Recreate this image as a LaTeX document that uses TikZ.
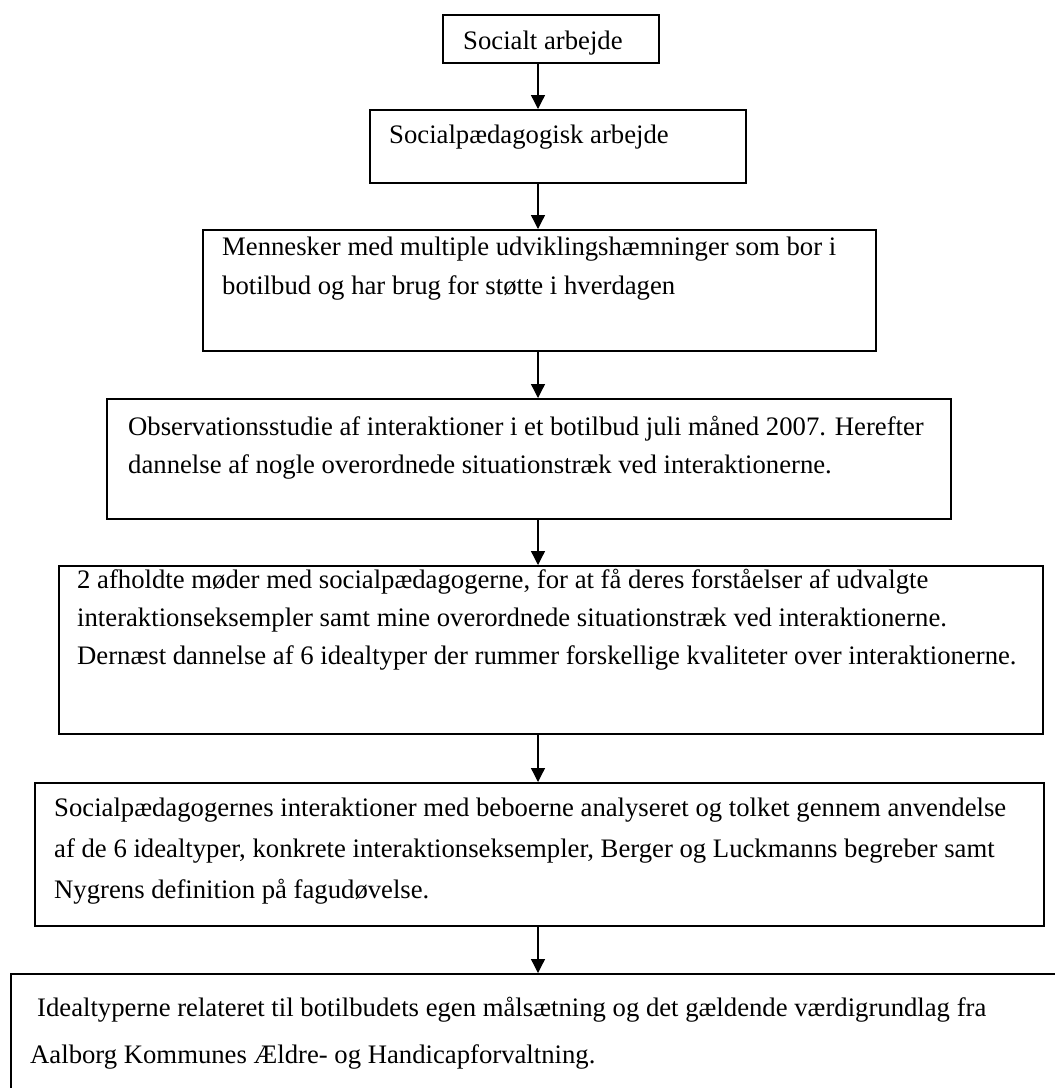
\documentclass[tikz,border=0pt]{standalone}
\usepackage{fontspec}
\setmainfont{Liberation Serif}
\usetikzlibrary{arrows.meta}
\begin{document}
\begin{tikzpicture}[x=1pt,y=-1pt,
  boxnode/.style={draw=black,line width=1.8pt,rectangle,inner sep=0pt,anchor=north west},
  txt/.style={anchor=base west,inner sep=0pt,font=\fontsize{26.7pt}{39pt}\selectfont},
  arr/.style={line width=1.3pt,-{Triangle[length=14pt,width=14pt]}}]
\useasboundingbox (0,0) rectangle (1055,1088);
\clip (0,0) rectangle (1055,1088);
\coordinate (ax) at (538,0);
% boxes
\node[boxnode,minimum width=216pt,minimum height=48pt] (b1) at (442,14) {};
\node[boxnode,minimum width=376pt,minimum height=73pt] (b2) at (369,109) {};
\node[boxnode,minimum width=673pt,minimum height=121pt] (b3) at (202,229) {};
\node[boxnode,minimum width=844pt,minimum height=120pt] (b4) at (106,398) {};
\node[boxnode,minimum width=984pt,minimum height=168pt] (b5) at (58,565) {};
\node[boxnode,minimum width=1009pt,minimum height=143pt] (b6) at (34,782) {};
\node[boxnode,minimum width=1060pt,minimum height=140pt] (b7) at (10,973) {};
% texts
\node[txt] (t1) at (463,49) {Socialt arbejde};
\node[txt] (t2) at (389,143) {Socialpædagogisk arbejde};
\node[txt] (t3a) at (222,255) {Mennesker med multiple udviklingshæmninger som bor i};
\node[txt] (t3b) at (222,294) {botilbud og har brug for støtte i hverdagen};
\node[txt] (t4a) at (128,435) {Observationsstudie af interaktioner i et botilbud juli måned 2007. Herefter};
\node[txt] (t4b) at (128,473) {dannelse af nogle overordnede situationstræk ved interaktionerne.};
\node[txt] (t5a) at (77,588) {2 afholdte møder med socialpædagogerne, for at få deres forståelser af udvalgte};
\node[txt] (t5b) at (77,626) {interaktionseksempler samt mine overordnede situationstræk ved interaktionerne.};
\node[txt] (t5c) at (77,664) {Dernæst dannelse af 6 idealtyper der rummer forskellige kvaliteter over interaktionerne.};
\node[txt] (t6a) at (54,816) {Socialpædagogernes interaktioner med beboerne analyseret og tolket gennem anvendelse};
\node[txt] (t6b) at (54,857) {af de 6 idealtyper, konkrete interaktionseksempler, Berger og Luckmanns begreber samt};
\node[txt] (t6c) at (54,898) {Nygrens definition på fagudøvelse.};
\node[txt] (t7a) at (37,1016) {Idealtyperne relateret til botilbudets egen målsætning og det gældende værdigrundlag fra};
\node[txt] (t7b) at (30,1063) {Aalborg Kommunes Ældre- og Handicapforvaltning.};
% arrows
\draw[arr] (b1.south -| ax) -- (b2.north -| ax);
\draw[arr] (b2.south -| ax) -- (b3.north -| ax);
\draw[arr] (b3.south -| ax) -- (b4.north -| ax);
\draw[arr] (b4.south -| ax) -- (b5.north -| ax);
\draw[arr] (b5.south -| ax) -- (b6.north -| ax);
\draw[arr] (b6.south -| ax) -- (b7.north -| ax);
\end{tikzpicture}
\end{document}
